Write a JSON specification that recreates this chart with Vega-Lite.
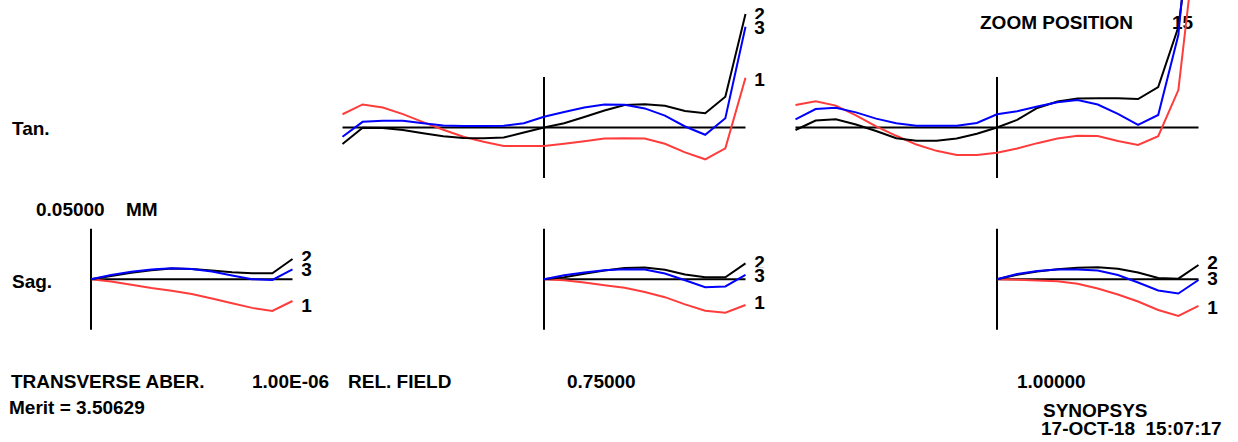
{
  "$schema": "https://vega.github.io/schema/vega-lite/v6.json",
  "width": 1238,
  "height": 442,
  "autosize": {"type": "fit", "contains": "padding"},
  "padding": 0,
  "background": "white",
  "config": {"view": {"stroke": null}},
  "datasets": {
    "notes": [
      {"note": "Tan.", "ax": -0.39206, "ay": -0.001485},
      {"note": "0.05000", "ax": -0.27295, "ay": -0.081683},
      {"note": "MM", "ax": 0.17370, "ay": -0.081683},
      {"note": "Sag.", "ax": -0.39206, "ay": -0.152970},
      {"note": "TRANSVERSE ABER.", "ax": -0.39702, "ay": -0.251980},
      {"note": "1.00E-06", "ax": 0.79901, "ay": -0.251980},
      {"note": "REL. FIELD", "ax": 1.27543, "ay": -0.251980},
      {"note": "0.75000", "ax": 2.36228, "ay": -0.251980},
      {"note": "1.00000", "ax": 4.59553, "ay": -0.251980},
      {"note": "Merit = 3.50629", "ax": -0.40695, "ay": -0.277723},
      {"note": "SYNOPSYS", "ax": 4.72457, "ay": -0.280693},
      {"note": "17-OCT-18\u00a0\u00a015:07:17", "ax": 4.71464, "ay": -0.298515},
      {"note": "ZOOM POSITION", "ax": 4.41191, "ay": 0.103465},
      {"note": "15", "ax": 5.36476, "ay": 0.103465}
    ],
    "tanaxes": [
      {"seg": "h", "pupil": -1, "aber": 0}, {"seg": "h", "pupil": 1, "aber": 0},
      {"seg": "v", "pupil": 0, "aber": -0.05}, {"seg": "v", "pupil": 0, "aber": 0.05}
    ],
    "sagaxes": [
      {"seg": "h", "pupil": 0, "aber": 0}, {"seg": "h", "pupil": 1, "aber": 0},
      {"seg": "v", "pupil": 0, "aber": -0.05}, {"seg": "v", "pupil": 0, "aber": 0.05}
    ],
    "labels": [
      {"panel": "sag1", "wl": "2", "pupil": 1.07, "aber": 0.0206},
      {"panel": "sag1", "wl": "3", "pupil": 1.07, "aber": 0.0097},
      {"panel": "sag1", "wl": "1", "pupil": 1.07, "aber": -0.0264},
      {"panel": "sag2", "wl": "2", "pupil": 1.07, "aber": 0.0166},
      {"panel": "sag2", "wl": "3", "pupil": 1.07, "aber": 0.0036},
      {"panel": "sag2", "wl": "1", "pupil": 1.07, "aber": -0.0235},
      {"panel": "sag3", "wl": "2", "pupil": 1.07, "aber": 0.0161},
      {"panel": "sag3", "wl": "3", "pupil": 1.07, "aber": 0.0003},
      {"panel": "sag3", "wl": "1", "pupil": 1.07, "aber": -0.0284},
      {"panel": "tan2", "wl": "2", "pupil": 1.07, "aber": 0.1109},
      {"panel": "tan2", "wl": "3", "pupil": 1.07, "aber": 0.0990},
      {"panel": "tan2", "wl": "1", "pupil": 1.07, "aber": 0.0470}
    ],
    "tan2": [
      {"wl":"1","pupil":-1,"aber":0.0131},{"wl":"1","pupil":-0.9,"aber":0.0228},{"wl":"1","pupil":-0.8,"aber":0.0198},{"wl":"1","pupil":-0.7,"aber":0.0133},{"wl":"1","pupil":-0.6,"aber":0.0053},{"wl":"1","pupil":-0.5,"aber":-0.0022},{"wl":"1","pupil":-0.4,"aber":-0.0092},{"wl":"1","pupil":-0.3,"aber":-0.0142},{"wl":"1","pupil":-0.2,"aber":-0.0183},{"wl":"1","pupil":-0.1,"aber":-0.0183},{"wl":"1","pupil":0,"aber":-0.0183},{"wl":"1","pupil":0.1,"aber":-0.0161},{"wl":"1","pupil":0.2,"aber":-0.0136},{"wl":"1","pupil":0.3,"aber":-0.0110},{"wl":"1","pupil":0.4,"aber":-0.0107},{"wl":"1","pupil":0.5,"aber":-0.0109},{"wl":"1","pupil":0.6,"aber":-0.0161},{"wl":"1","pupil":0.7,"aber":-0.0246},{"wl":"1","pupil":0.8,"aber":-0.0315},{"wl":"1","pupil":0.9,"aber":-0.0206},{"wl":"1","pupil":1,"aber":0.0493},
      {"wl":"2","pupil":-1,"aber":-0.0163},{"wl":"2","pupil":-0.9,"aber":-0.0003},{"wl":"2","pupil":-0.8,"aber":-0.0005},{"wl":"2","pupil":-0.7,"aber":-0.0024},{"wl":"2","pupil":-0.6,"aber":-0.0057},{"wl":"2","pupil":-0.5,"aber":-0.0087},{"wl":"2","pupil":-0.4,"aber":-0.0104},{"wl":"2","pupil":-0.3,"aber":-0.0106},{"wl":"2","pupil":-0.2,"aber":-0.0099},{"wl":"2","pupil":-0.1,"aber":-0.0050},{"wl":"2","pupil":0,"aber":0},{"wl":"2","pupil":0.1,"aber":0.0042},{"wl":"2","pupil":0.2,"aber":0.0104},{"wl":"2","pupil":0.3,"aber":0.0169},{"wl":"2","pupil":0.4,"aber":0.0223},{"wl":"2","pupil":0.5,"aber":0.0230},{"wl":"2","pupil":0.6,"aber":0.0216},{"wl":"2","pupil":0.7,"aber":0.0163},{"wl":"2","pupil":0.8,"aber":0.0141},{"wl":"2","pupil":0.9,"aber":0.0305},{"wl":"2","pupil":1,"aber":0.1124},
      {"wl":"3","pupil":-1,"aber":-0.0091},{"wl":"3","pupil":-0.9,"aber":0.0056},{"wl":"3","pupil":-0.8,"aber":0.0067},{"wl":"3","pupil":-0.7,"aber":0.0066},{"wl":"3","pupil":-0.6,"aber":0.0042},{"wl":"3","pupil":-0.5,"aber":0.0019},{"wl":"3","pupil":-0.4,"aber":0.0015},{"wl":"3","pupil":-0.3,"aber":0.0015},{"wl":"3","pupil":-0.2,"aber":0.0017},{"wl":"3","pupil":-0.1,"aber":0.0042},{"wl":"3","pupil":0,"aber":0.0106},{"wl":"3","pupil":0.1,"aber":0.0153},{"wl":"3","pupil":0.2,"aber":0.0198},{"wl":"3","pupil":0.3,"aber":0.0228},{"wl":"3","pupil":0.4,"aber":0.0225},{"wl":"3","pupil":0.5,"aber":0.0189},{"wl":"3","pupil":0.6,"aber":0.0118},{"wl":"3","pupil":0.7,"aber":0.0010},{"wl":"3","pupil":0.8,"aber":-0.0072},{"wl":"3","pupil":0.9,"aber":0.0091},{"wl":"3","pupil":1,"aber":0.0998}
    ],
    "tan3": [
      {"wl":"1","pupil":-1,"aber":0.0223},{"wl":"1","pupil":-0.9,"aber":0.0259},{"wl":"1","pupil":-0.8,"aber":0.0217},{"wl":"1","pupil":-0.7,"aber":0.0120},{"wl":"1","pupil":-0.6,"aber":0.0011},{"wl":"1","pupil":-0.5,"aber":-0.0082},{"wl":"1","pupil":-0.4,"aber":-0.0169},{"wl":"1","pupil":-0.3,"aber":-0.0231},{"wl":"1","pupil":-0.2,"aber":-0.0272},{"wl":"1","pupil":-0.1,"aber":-0.0272},{"wl":"1","pupil":0,"aber":-0.0250},{"wl":"1","pupil":0.1,"aber":-0.0208},{"wl":"1","pupil":0.2,"aber":-0.0155},{"wl":"1","pupil":0.3,"aber":-0.0109},{"wl":"1","pupil":0.4,"aber":-0.0081},{"wl":"1","pupil":0.5,"aber":-0.0084},{"wl":"1","pupil":0.6,"aber":-0.0134},{"wl":"1","pupil":0.7,"aber":-0.0173},{"wl":"1","pupil":0.8,"aber":-0.0086},{"wl":"1","pupil":0.9,"aber":0.0371},{"wl":"1","pupil":1,"aber":0.2100},
      {"wl":"2","pupil":-1,"aber":-0.0025},{"wl":"2","pupil":-0.9,"aber":0.0069},{"wl":"2","pupil":-0.8,"aber":0.0081},{"wl":"2","pupil":-0.7,"aber":0.0030},{"wl":"2","pupil":-0.6,"aber":-0.0035},{"wl":"2","pupil":-0.5,"aber":-0.0106},{"wl":"2","pupil":-0.4,"aber":-0.0132},{"wl":"2","pupil":-0.3,"aber":-0.0131},{"wl":"2","pupil":-0.2,"aber":-0.0109},{"wl":"2","pupil":-0.1,"aber":-0.0062},{"wl":"2","pupil":0,"aber":0},{"wl":"2","pupil":0.1,"aber":0.0076},{"wl":"2","pupil":0.2,"aber":0.0193},{"wl":"2","pupil":0.3,"aber":0.0257},{"wl":"2","pupil":0.4,"aber":0.0287},{"wl":"2","pupil":0.5,"aber":0.0289},{"wl":"2","pupil":0.6,"aber":0.0289},{"wl":"2","pupil":0.7,"aber":0.0282},{"wl":"2","pupil":0.8,"aber":0.0401},{"wl":"2","pupil":0.9,"aber":0.0995},{"wl":"2","pupil":1,"aber":0.2500},
      {"wl":"3","pupil":-1,"aber":0.0081},{"wl":"3","pupil":-0.9,"aber":0.0183},{"wl":"3","pupil":-0.8,"aber":0.0195},{"wl":"3","pupil":-0.7,"aber":0.0150},{"wl":"3","pupil":-0.6,"aber":0.0088},{"wl":"3","pupil":-0.5,"aber":0.0043},{"wl":"3","pupil":-0.4,"aber":0.0018},{"wl":"3","pupil":-0.3,"aber":0.0018},{"wl":"3","pupil":-0.2,"aber":0.0018},{"wl":"3","pupil":-0.1,"aber":0.0045},{"wl":"3","pupil":0,"aber":0.0131},{"wl":"3","pupil":0.1,"aber":0.0161},{"wl":"3","pupil":0.2,"aber":0.0208},{"wl":"3","pupil":0.3,"aber":0.0250},{"wl":"3","pupil":0.4,"aber":0.0272},{"wl":"3","pupil":0.5,"aber":0.0228},{"wl":"3","pupil":0.6,"aber":0.0134},{"wl":"3","pupil":0.7,"aber":0.0025},{"wl":"3","pupil":0.8,"aber":0.0124},{"wl":"3","pupil":0.9,"aber":0.0916},{"wl":"3","pupil":1,"aber":0.3000}
    ],
    "sag1": [
      {"wl":"1","pupil":0,"aber":0},{"wl":"1","pupil":0.1,"aber":-0.0022},{"wl":"1","pupil":0.2,"aber":-0.0053},{"wl":"1","pupil":0.3,"aber":-0.0087},{"wl":"1","pupil":0.4,"aber":-0.0113},{"wl":"1","pupil":0.5,"aber":-0.0146},{"wl":"1","pupil":0.6,"aber":-0.0190},{"wl":"1","pupil":0.7,"aber":-0.0238},{"wl":"1","pupil":0.8,"aber":-0.0283},{"wl":"1","pupil":0.9,"aber":-0.0314},{"wl":"1","pupil":1,"aber":-0.0215},
      {"wl":"2","pupil":0,"aber":0},{"wl":"2","pupil":0.1,"aber":0.0033},{"wl":"2","pupil":0.2,"aber":0.0064},{"wl":"2","pupil":0.3,"aber":0.0089},{"wl":"2","pupil":0.4,"aber":0.0108},{"wl":"2","pupil":0.5,"aber":0.0103},{"wl":"2","pupil":0.6,"aber":0.0088},{"wl":"2","pupil":0.7,"aber":0.0070},{"wl":"2","pupil":0.8,"aber":0.0059},{"wl":"2","pupil":0.9,"aber":0.0059},{"wl":"2","pupil":1,"aber":0.0201},
      {"wl":"3","pupil":0,"aber":0},{"wl":"3","pupil":0.1,"aber":0.0043},{"wl":"3","pupil":0.2,"aber":0.0075},{"wl":"3","pupil":0.3,"aber":0.0097},{"wl":"3","pupil":0.4,"aber":0.0109},{"wl":"3","pupil":0.5,"aber":0.0103},{"wl":"3","pupil":0.6,"aber":0.0077},{"wl":"3","pupil":0.7,"aber":0.0038},{"wl":"3","pupil":0.8,"aber":0.0001},{"wl":"3","pupil":0.9,"aber":-0.0007},{"wl":"3","pupil":1,"aber":0.0099}
    ],
    "sag2": [
      {"wl":"1","pupil":0,"aber":0},{"wl":"1","pupil":0.1,"aber":-0.0009},{"wl":"1","pupil":0.2,"aber":-0.0032},{"wl":"1","pupil":0.3,"aber":-0.0058},{"wl":"1","pupil":0.4,"aber":-0.0083},{"wl":"1","pupil":0.5,"aber":-0.0125},{"wl":"1","pupil":0.6,"aber":-0.0177},{"wl":"1","pupil":0.7,"aber":-0.0248},{"wl":"1","pupil":0.8,"aber":-0.0312},{"wl":"1","pupil":0.9,"aber":-0.0331},{"wl":"1","pupil":1,"aber":-0.0254},
      {"wl":"2","pupil":0,"aber":0},{"wl":"2","pupil":0.1,"aber":0.0020},{"wl":"2","pupil":0.2,"aber":0.0054},{"wl":"2","pupil":0.3,"aber":0.0087},{"wl":"2","pupil":0.4,"aber":0.0112},{"wl":"2","pupil":0.5,"aber":0.0117},{"wl":"2","pupil":0.6,"aber":0.0095},{"wl":"2","pupil":0.7,"aber":0.0048},{"wl":"2","pupil":0.8,"aber":0.0020},{"wl":"2","pupil":0.9,"aber":0.0020},{"wl":"2","pupil":1,"aber":0.0158},
      {"wl":"3","pupil":0,"aber":0},{"wl":"3","pupil":0.1,"aber":0.0040},{"wl":"3","pupil":0.2,"aber":0.0067},{"wl":"3","pupil":0.3,"aber":0.0090},{"wl":"3","pupil":0.4,"aber":0.0099},{"wl":"3","pupil":0.5,"aber":0.0097},{"wl":"3","pupil":0.6,"aber":0.0057},{"wl":"3","pupil":0.7,"aber":-0.0009},{"wl":"3","pupil":0.8,"aber":-0.0079},{"wl":"3","pupil":0.9,"aber":-0.0071},{"wl":"3","pupil":1,"aber":0.0043}
    ],
    "sag3": [
      {"wl":"1","pupil":0,"aber":0},{"wl":"1","pupil":0.1,"aber":-0.0005},{"wl":"1","pupil":0.2,"aber":-0.0012},{"wl":"1","pupil":0.3,"aber":-0.0019},{"wl":"1","pupil":0.4,"aber":-0.0044},{"wl":"1","pupil":0.5,"aber":-0.0091},{"wl":"1","pupil":0.6,"aber":-0.0151},{"wl":"1","pupil":0.7,"aber":-0.0220},{"wl":"1","pupil":0.8,"aber":-0.0304},{"wl":"1","pupil":0.9,"aber":-0.0363},{"wl":"1","pupil":1,"aber":-0.0264},
      {"wl":"2","pupil":0,"aber":0},{"wl":"2","pupil":0.1,"aber":0.0045},{"wl":"2","pupil":0.2,"aber":0.0078},{"wl":"2","pupil":0.3,"aber":0.0099},{"wl":"2","pupil":0.4,"aber":0.0114},{"wl":"2","pupil":0.5,"aber":0.0119},{"wl":"2","pupil":0.6,"aber":0.0104},{"wl":"2","pupil":0.7,"aber":0.0067},{"wl":"2","pupil":0.8,"aber":0.0013},{"wl":"2","pupil":0.9,"aber":0.0006},{"wl":"2","pupil":1,"aber":0.0142},
      {"wl":"3","pupil":0,"aber":0},{"wl":"3","pupil":0.1,"aber":0.0052},{"wl":"3","pupil":0.2,"aber":0.0082},{"wl":"3","pupil":0.3,"aber":0.0096},{"wl":"3","pupil":0.4,"aber":0.0098},{"wl":"3","pupil":0.5,"aber":0.0086},{"wl":"3","pupil":0.6,"aber":0.0042},{"wl":"3","pupil":0.7,"aber":-0.0032},{"wl":"3","pupil":0.8,"aber":-0.0111},{"wl":"3","pupil":0.9,"aber":-0.0141},{"wl":"3","pupil":1,"aber":-0.0007}
    ]
  },
  "resolve": {"scale": {"x": "independent", "y": "independent"}},
  "layer": [
    {
      "data": {"name": "notes"},
      "mark": {"type": "text", "align": "left", "baseline": "middle", "font": "Liberation Sans", "fontWeight": "bold", "fontSize": 19, "color": "#000000", "clip": true},
      "encoding": {
        "x": {"field": "ax", "type": "quantitative", "scale": {"domain": [-0.451613, 5.692308], "nice": false, "zero": false}, "axis": null},
        "y": {"field": "ay", "type": "quantitative", "scale": {"domain": [-0.311386, 0.126238], "nice": false, "zero": false}, "axis": null},
        "text": {"field": "note"}
      }
    },
    {
      "data": {"name": "sag1"},
      "encoding": {
        "x": {"field": "pupil", "type": "quantitative", "scale": {"domain": [-0.451613, 5.692308], "nice": false, "zero": false}, "axis": null},
        "y": {"field": "aber", "type": "quantitative", "scale": {"domain": [-0.161089, 0.276535], "nice": false, "zero": false}, "axis": null}
      },
      "layer": [
        {"data": {"name": "sagaxes"}, "mark": {"type": "line", "color": "#000000", "strokeWidth": 2, "clip": true}, "encoding": {"detail": {"field": "seg"}}},
        {"mark": {"type": "line", "strokeWidth": 2, "clip": true}, "encoding": {"color": {"field": "wl", "type": "nominal", "scale": {"domain": ["1", "2", "3"], "range": ["#ff3c3c", "#000000", "#0000ff"]}, "legend": null}}},
        {"data": {"name": "labels"}, "transform": [{"filter": "datum.panel == 'sag1' && datum.wl == '2'"}], "mark": {"type": "text", "align": "center", "baseline": "middle", "font": "Liberation Sans", "fontWeight": "bold", "fontSize": 19, "color": "#000000"}, "encoding": {"text": {"field": "wl"}}},
        {"data": {"name": "labels"}, "transform": [{"filter": "datum.panel == 'sag1' && datum.wl == '3'"}], "mark": {"type": "square", "color": "#ffffff", "filled": true, "opacity": 1, "size": 289}},
        {"data": {"name": "labels"}, "transform": [{"filter": "datum.panel == 'sag1' && datum.wl != '2'"}], "mark": {"type": "text", "align": "center", "baseline": "middle", "font": "Liberation Sans", "fontWeight": "bold", "fontSize": 19, "color": "#000000"}, "encoding": {"text": {"field": "wl"}}}
      ]
    },
    {
      "data": {"name": "sag2"},
      "encoding": {
        "x": {"field": "pupil", "type": "quantitative", "scale": {"domain": [-2.699752, 3.444169], "nice": false, "zero": false}, "axis": null},
        "y": {"field": "aber", "type": "quantitative", "scale": {"domain": [-0.161089, 0.276535], "nice": false, "zero": false}, "axis": null}
      },
      "layer": [
        {"data": {"name": "sagaxes"}, "mark": {"type": "line", "color": "#000000", "strokeWidth": 2, "clip": true}, "encoding": {"detail": {"field": "seg"}}},
        {"mark": {"type": "line", "strokeWidth": 2, "clip": true}, "encoding": {"color": {"field": "wl", "type": "nominal", "scale": {"domain": ["1", "2", "3"], "range": ["#ff3c3c", "#000000", "#0000ff"]}, "legend": null}}},
        {"data": {"name": "labels"}, "transform": [{"filter": "datum.panel == 'sag2' && datum.wl == '2'"}], "mark": {"type": "text", "align": "center", "baseline": "middle", "font": "Liberation Sans", "fontWeight": "bold", "fontSize": 19, "color": "#000000"}, "encoding": {"text": {"field": "wl"}}},
        {"data": {"name": "labels"}, "transform": [{"filter": "datum.panel == 'sag2' && datum.wl == '3'"}], "mark": {"type": "square", "color": "#ffffff", "filled": true, "opacity": 1, "size": 289}},
        {"data": {"name": "labels"}, "transform": [{"filter": "datum.panel == 'sag2' && datum.wl != '2'"}], "mark": {"type": "text", "align": "center", "baseline": "middle", "font": "Liberation Sans", "fontWeight": "bold", "fontSize": 19, "color": "#000000"}, "encoding": {"text": {"field": "wl"}}}
      ]
    },
    {
      "data": {"name": "sag3"},
      "encoding": {
        "x": {"field": "pupil", "type": "quantitative", "scale": {"domain": [-4.947891, 1.196030], "nice": false, "zero": false}, "axis": null},
        "y": {"field": "aber", "type": "quantitative", "scale": {"domain": [-0.161089, 0.276535], "nice": false, "zero": false}, "axis": null}
      },
      "layer": [
        {"data": {"name": "sagaxes"}, "mark": {"type": "line", "color": "#000000", "strokeWidth": 2, "clip": true}, "encoding": {"detail": {"field": "seg"}}},
        {"mark": {"type": "line", "strokeWidth": 2, "clip": true}, "encoding": {"color": {"field": "wl", "type": "nominal", "scale": {"domain": ["1", "2", "3"], "range": ["#ff3c3c", "#000000", "#0000ff"]}, "legend": null}}},
        {"data": {"name": "labels"}, "transform": [{"filter": "datum.panel == 'sag3' && datum.wl == '2'"}], "mark": {"type": "text", "align": "center", "baseline": "middle", "font": "Liberation Sans", "fontWeight": "bold", "fontSize": 19, "color": "#000000"}, "encoding": {"text": {"field": "wl"}}},
        {"data": {"name": "labels"}, "transform": [{"filter": "datum.panel == 'sag3' && datum.wl == '3'"}], "mark": {"type": "square", "color": "#ffffff", "filled": true, "opacity": 1, "size": 289}},
        {"data": {"name": "labels"}, "transform": [{"filter": "datum.panel == 'sag3' && datum.wl != '2'"}], "mark": {"type": "text", "align": "center", "baseline": "middle", "font": "Liberation Sans", "fontWeight": "bold", "fontSize": 19, "color": "#000000"}, "encoding": {"text": {"field": "wl"}}}
      ]
    },
    {
      "data": {"name": "tan2"},
      "encoding": {
        "x": {"field": "pupil", "type": "quantitative", "scale": {"domain": [-2.699752, 3.444169], "nice": false, "zero": false}, "axis": null},
        "y": {"field": "aber", "type": "quantitative", "scale": {"domain": [-0.311386, 0.126238], "nice": false, "zero": false}, "axis": null}
      },
      "layer": [
        {"data": {"name": "tanaxes"}, "mark": {"type": "line", "color": "#000000", "strokeWidth": 2, "clip": true}, "encoding": {"detail": {"field": "seg"}}},
        {"mark": {"type": "line", "strokeWidth": 2, "clip": true}, "encoding": {"color": {"field": "wl", "type": "nominal", "scale": {"domain": ["1", "2", "3"], "range": ["#ff3c3c", "#000000", "#0000ff"]}, "legend": null}}},
        {"data": {"name": "labels"}, "transform": [{"filter": "datum.panel == 'tan2' && datum.wl == '2'"}], "mark": {"type": "text", "align": "center", "baseline": "middle", "font": "Liberation Sans", "fontWeight": "bold", "fontSize": 19, "color": "#000000"}, "encoding": {"text": {"field": "wl"}}},
        {"data": {"name": "labels"}, "transform": [{"filter": "datum.panel == 'tan2' && datum.wl == '3'"}], "mark": {"type": "square", "color": "#ffffff", "filled": true, "opacity": 1, "size": 289}},
        {"data": {"name": "labels"}, "transform": [{"filter": "datum.panel == 'tan2' && datum.wl != '2'"}], "mark": {"type": "text", "align": "center", "baseline": "middle", "font": "Liberation Sans", "fontWeight": "bold", "fontSize": 19, "color": "#000000"}, "encoding": {"text": {"field": "wl"}}}
      ]
    },
    {
      "data": {"name": "tan3"},
      "encoding": {
        "x": {"field": "pupil", "type": "quantitative", "scale": {"domain": [-4.947891, 1.196030], "nice": false, "zero": false}, "axis": null},
        "y": {"field": "aber", "type": "quantitative", "scale": {"domain": [-0.311386, 0.126238], "nice": false, "zero": false}, "axis": null}
      },
      "layer": [
        {"data": {"name": "tanaxes"}, "mark": {"type": "line", "color": "#000000", "strokeWidth": 2, "clip": true}, "encoding": {"detail": {"field": "seg"}}},
        {"mark": {"type": "line", "strokeWidth": 2, "clip": true}, "encoding": {"color": {"field": "wl", "type": "nominal", "scale": {"domain": ["1", "2", "3"], "range": ["#ff3c3c", "#000000", "#0000ff"]}, "legend": null}}}
      ]
    }
  ]
}
